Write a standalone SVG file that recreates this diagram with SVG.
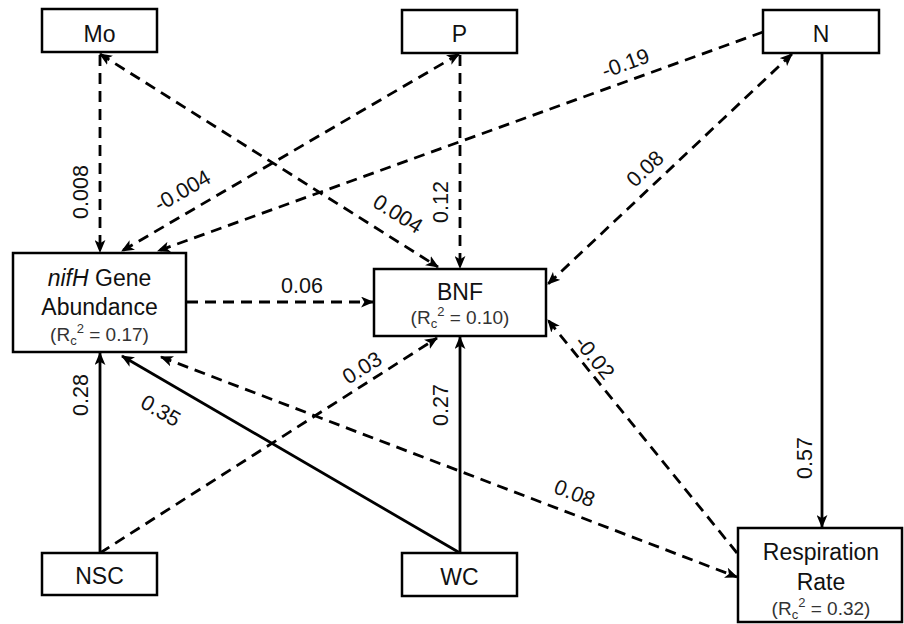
<svg xmlns="http://www.w3.org/2000/svg" width="904" height="624" viewBox="0 0 904 624">
<style>
.box{fill:#fff;stroke:#000;stroke-width:2.5}
.t{font-family:"Liberation Sans",Arial,sans-serif;font-size:23px;fill:#111;text-anchor:middle}
.r{font-family:"Liberation Sans",Arial,sans-serif;font-size:19px;fill:#333;text-anchor:middle}
.l{font-family:"Liberation Sans",Arial,sans-serif;font-size:21.5px;fill:#111;text-anchor:middle}
.e{fill:none;stroke:#000;stroke-width:2.8}
.d{stroke-dasharray:11 7}
</style>
<defs>
<marker id="ah" viewBox="0 0 12 10" refX="11" refY="5" markerWidth="13" markerHeight="11" markerUnits="userSpaceOnUse" orient="auto-start-reverse">
<path d="M0,0 L12,5 L0,10 L3,5 z" fill="#000"/>
</marker>
</defs>
<g id="connectors">
<line class="e d" x1="100" y1="55" x2="100" y2="252" marker-end="url(#ah)"/>
<line class="e d" x1="100" y1="54" x2="438" y2="267" marker-start="url(#ah)" marker-end="url(#ah)"/>
<line class="e d" x1="459" y1="54" x2="122" y2="251" marker-start="url(#ah)" marker-end="url(#ah)"/>
<line class="e d" x1="460" y1="55" x2="460" y2="268" marker-end="url(#ah)"/>
<line class="e d" x1="763" y1="32" x2="158" y2="251" marker-end="url(#ah)"/>
<line class="e d" x1="792" y1="54" x2="548" y2="284" marker-start="url(#ah)" marker-end="url(#ah)"/>
<line class="e" x1="822" y1="53" x2="822" y2="527" marker-end="url(#ah)"/>
<line class="e d" x1="187" y1="302" x2="373" y2="302" marker-end="url(#ah)"/>
<line class="e" x1="100" y1="553" x2="100" y2="353" marker-end="url(#ah)"/>
<line class="e d" x1="100" y1="553" x2="437" y2="338" marker-end="url(#ah)"/>
<line class="e" x1="460" y1="553" x2="122" y2="356" marker-end="url(#ah)"/>
<line class="e" x1="460" y1="553" x2="460" y2="337" marker-end="url(#ah)"/>
<line class="e d" x1="161" y1="357" x2="737" y2="577" marker-start="url(#ah)" marker-end="url(#ah)"/>
<line class="e d" x1="737" y1="553" x2="548" y2="320" marker-end="url(#ah)"/>
</g>
<g id="labels">
<text class="l" transform="translate(88,192) rotate(-90)">0.008</text>
<text class="l" transform="translate(186,197) rotate(-30)">-0.004</text>
<text class="l" transform="translate(394,220) rotate(32)">0.004</text>
<text class="l" transform="translate(448,202) rotate(-90)">0.12</text>
<text class="l" transform="translate(628,70) rotate(-20)">-0.19</text>
<text class="l" transform="translate(650,174) rotate(-43)">0.08</text>
<text class="l" transform="translate(812,458) rotate(-90)">0.57</text>
<text class="l" x="302" y="293">0.06</text>
<text class="l" transform="translate(88,395) rotate(-90)">0.28</text>
<text class="l" transform="translate(366,374) rotate(-32)">0.03</text>
<text class="l" transform="translate(157,417) rotate(30)">0.35</text>
<text class="l" transform="translate(448,405) rotate(-90)">0.27</text>
<text class="l" transform="translate(572,500) rotate(21)">0.08</text>
<text class="l" transform="translate(589,362) rotate(51)">-0.02</text>
</g>
<g id="node-mo"><rect class="box" x="42" y="9" width="115" height="43"/><text class="t" x="99.5" y="42">Mo</text></g>
<g id="node-p"><rect class="box" x="402" y="10" width="115" height="43"/><text class="t" x="459.5" y="42">P</text></g>
<g id="node-n"><rect class="box" x="763" y="10" width="116" height="43"/><text class="t" x="821" y="42">N</text></g>
<g id="node-nifh"><rect class="box" x="13" y="253" width="173" height="99"/>
<text class="t" x="99.5" y="286"><tspan font-style="italic">nifH</tspan> Gene</text>
<text class="t" x="99.5" y="315">Abundance</text>
<text class="r" x="99.5" y="341">(R<tspan font-size="13" dy="4">c</tspan><tspan font-size="13" dy="-12">2</tspan><tspan dy="8"> = 0.17)</tspan></text></g>
<g id="node-bnf"><rect class="box" x="374" y="269" width="172" height="67"/>
<text class="t" x="460" y="300">BNF</text>
<text class="r" x="460" y="324">(R<tspan font-size="13" dy="4">c</tspan><tspan font-size="13" dy="-12">2</tspan><tspan dy="8"> = 0.10)</tspan></text></g>
<g id="node-nsc"><rect class="box" x="42" y="553" width="115" height="42"/><text class="t" x="99.5" y="584">NSC</text></g>
<g id="node-wc"><rect class="box" x="402" y="553" width="115" height="43"/><text class="t" x="459.5" y="585">WC</text></g>
<g id="node-resp"><rect class="box" x="738" y="528" width="164" height="94"/>
<text class="t" x="821" y="560">Respiration</text>
<text class="t" x="821" y="590">Rate</text>
<text class="r" x="821" y="615">(R<tspan font-size="13" dy="4">c</tspan><tspan font-size="13" dy="-12">2</tspan><tspan dy="8"> = 0.32)</tspan></text></g>
</svg>
